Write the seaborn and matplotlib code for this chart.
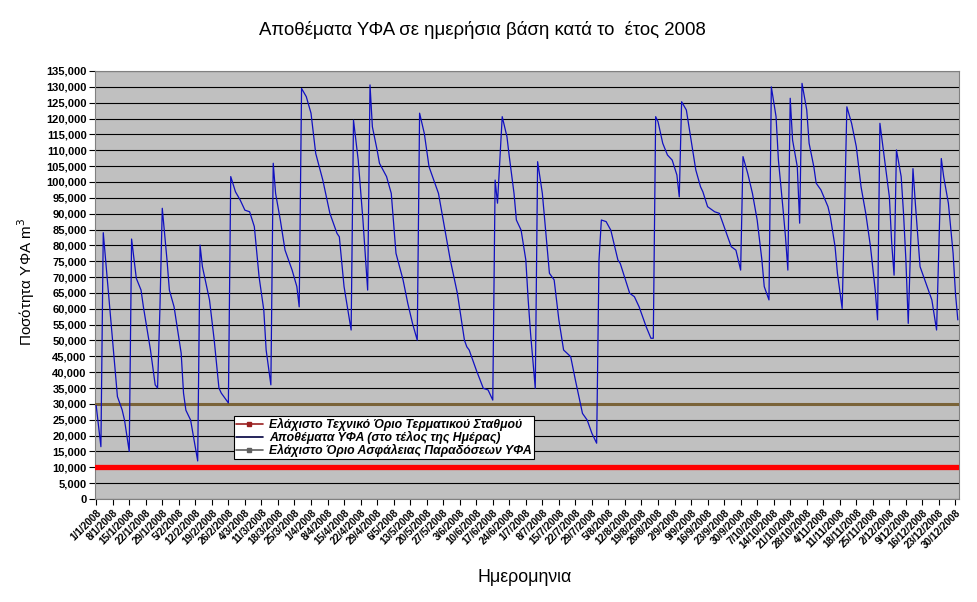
import numpy as np
import pandas as pd
import matplotlib
matplotlib.use("Agg")
import matplotlib.pyplot as plt
import seaborn as sns
from matplotlib.lines import Line2D

# ---- data ----
days = [0, 2, 3, 9, 11, 12, 14, 15, 17, 19, 20, 23, 25, 26, 27, 28, 30, 31, 33, 36,
        37, 38, 40, 43, 44, 45, 48, 50, 52, 53, 56, 57, 59, 61, 63, 65, 67, 69, 71, 72,
        74, 75, 76, 78, 80, 83, 85, 86, 87, 89, 91, 93, 96, 99, 102, 103, 105, 108, 109,
        111, 113, 115, 116, 117, 119, 120, 123, 125, 127, 130, 132, 134, 136, 137, 139,
        141, 143, 145, 147, 150, 153, 156, 157, 158, 161, 164, 166, 168, 169, 170, 172,
        174, 175, 177, 178, 180, 182, 183, 184, 186, 187, 189, 191, 192, 194, 196, 198,
        201, 203, 206, 208, 210, 212, 213, 214, 216, 218, 221, 222, 226, 228, 230, 233,
        235, 236, 237, 238, 240, 242, 244, 246, 247, 248, 250, 252, 254, 256, 257, 259,
        262, 264, 266, 269, 271, 273, 274, 276, 278, 280, 282, 283, 285, 286, 288, 289,
        291, 292, 293, 294, 295, 297, 298, 299, 301, 302, 304, 305, 307, 310, 311, 313,
        314, 316, 317, 318, 320, 322, 324, 326, 328, 330, 331, 332, 334, 336, 337, 338,
        339, 341, 342, 343, 344, 346, 347, 349, 351, 354, 356, 358, 359, 361, 363, 364, 365]
stock = [29500, 16500, 84000, 32300, 28100, 24900, 15000, 82000, 69600, 65900, 60600, 47000,
         36000, 35000, 60000, 91700, 75400, 65900, 60600, 46000, 33400, 28000, 24900, 12000,
         80100, 73300, 62800, 50100, 35000, 33400, 30300, 101700, 96900, 94300, 91100, 90600,
         85900, 70100, 59600, 47000, 36000, 105900, 96400, 88000, 78500, 72200, 67000, 60600,
         129500, 126900, 121700, 109000, 100600, 90100, 83800, 82700, 67000, 53300, 119500,
         106900, 88000, 65900, 130600, 117400, 110100, 105900, 101700, 96400, 77500, 69100,
         61700, 55400, 50100, 121700, 115300, 104800, 100600, 96400, 88000, 75400, 64900,
         50100, 48000, 47000, 40700, 34900, 34400, 31200, 100600, 93300, 120600, 114300,
         108000, 96400, 88000, 84800, 75400, 62800, 52300, 34900, 106400, 96400, 79600,
         71200, 69100, 56500, 47000, 44900, 37500, 27000, 24900, 20700, 17600, 75400, 88000,
         87500, 84800, 75400, 74300, 64900, 63800, 60600, 54300, 50700, 50700, 120600, 119000,
         112200, 108500, 106900, 102200, 95300, 125300, 122700, 113200, 103800, 98500, 96900,
         92200, 90600, 90100, 85900, 79600, 78500, 72200, 108000, 102700, 96400, 88000, 75400,
         67000, 62800, 130000, 120600, 106900, 91100, 82700, 72200, 126400, 113200, 104800,
         87000, 131100, 122700, 112200, 104800, 99600, 97500, 92200, 89000, 79600, 71200,
         60100, 90000, 123700, 118500, 111100, 98500, 90100, 79600, 65900, 56500, 118500,
         106900, 95300, 80600, 70600, 110100, 101700, 90100, 75400, 55400, 104200, 93300,
         73300, 69100, 62800, 53300, 107400, 101700, 93300, 77500, 64900, 56500]
TECH_MIN = 10000      # Ελάχιστο Τεχνικό Όριο Τερματικού Σταθμού
SAFETY_MIN = 30000    # Ελάχιστο Όριο Ασφάλειας Παραδόσεων ΥΦΑ
y_ticks = list(range(0, 135001, 5000))
tick_step_days = 7

title = "Αποθέματα ΥΦΑ σε ημερήσια βάση κατά το  έτος 2008"
label_tech = "Ελάχιστο Τεχνικό Όριο Τερματικού Σταθμού"
label_stock = "Αποθέματα ΥΦΑ (στο τέλος της Ημέρας)"
label_safety = "Ελάχιστο Όριο Ασφάλειας Παραδόσεων ΥΦΑ"

# ---- build frames ----
start = pd.Timestamp("2008-01-01")
end = pd.Timestamp("2008-12-31")
df = pd.DataFrame({"date": start + pd.to_timedelta(days, unit="D"), "stock": stock})
lim_df = pd.DataFrame({"date": [start - pd.Timedelta(hours=12), end + pd.Timedelta(hours=12)]})
lim_df["tech"] = TECH_MIN
lim_df["safety"] = SAFETY_MIN
tick_dates = pd.date_range(start, end, freq=f"{tick_step_days}D")
tick_labels = [f"{d.day}/{d.month}/{d.year}" for d in tick_dates]

sns.set_theme(style="white")
plt.rcParams["font.family"] = ["Liberation Sans", "DejaVu Sans"]
plt.rcParams["text.color"] = "black"
plt.rcParams["xtick.color"] = "black"
plt.rcParams["ytick.color"] = "black"

fig = plt.figure(figsize=(9.77, 6.02), dpi=100)
ax = fig.add_axes([95 / 977, 1 - 499 / 602, 864 / 977, 428 / 602])
ax.set_facecolor("#C0C0C0")

C_TECH = "#FF0000"
C_STOCK = "#1010C0"
C_SAFE = "#7A6338"

sns.lineplot(data=lim_df, x="date", y="tech", ax=ax, color=C_TECH, linewidth=3.8, zorder=3)
sns.lineplot(data=lim_df, x="date", y="safety", ax=ax, color=C_SAFE, linewidth=2.2, zorder=3)
sns.lineplot(data=df, x="date", y="stock", ax=ax, color=C_STOCK, linewidth=0.9, zorder=4)

ax.set_xlim(start - pd.Timedelta(hours=12), end + pd.Timedelta(hours=12))
ax.set_ylim(0, 135000)
ax.set_yticks(y_ticks)
ax.set_yticklabels([f"{v:,}" for v in y_ticks], fontsize=8, fontweight="bold")
ax.yaxis.grid(True, color="black", linewidth=0.8)
ax.set_axisbelow(True)
ax.set_xticks(tick_dates)
ax.set_xticklabels(tick_labels, rotation=45, ha="right", rotation_mode="anchor",
                   fontsize=7.2, fontweight="bold")
ax.tick_params(axis="both", which="major", length=4, width=0.8, color="black",
               direction="out", bottom=True, left=True, pad=2)
ax.set_xlabel("")
ax.set_ylabel("")
for s in ax.spines.values():
    s.set_color("#808080")
    s.set_linewidth(0.8)

fig.text(482 / 977, 1 - 30 / 602, title, ha="center", va="center", fontsize=13.4)
fig.text(26 / 977, 1 - 282 / 602, "Ποσότητα ΥΦΑ m$^3$", rotation=90, ha="center",
         va="center", fontsize=11)
fig.text(525 / 977, 1 - 577 / 602, "Ημερομηνια", ha="center", va="center", fontsize=12.8)

handles = [
    Line2D([], [], color="#9A2020", lw=1.2, marker="s", markersize=3),
    Line2D([], [], color="#000040", lw=1.2),
    Line2D([], [], color="#606060", lw=1.2, marker="s", markersize=3),
]
leg = ax.legend(handles, [label_tech, label_stock, label_safety],
                loc="upper left", bbox_to_anchor=(228 / 977, 1 - 410 / 602),
                bbox_transform=fig.transFigure, frameon=True, fancybox=False,
                framealpha=1, edgecolor="black", handlelength=2.2, handletextpad=0.5,
                labelspacing=0.0, borderpad=0.15,
                prop={"size": 8.8, "weight": "bold", "style": "italic"})
leg.get_frame().set_linewidth(0.8)
leg.set_zorder(10)

fig.savefig("out.png", dpi=100, facecolor="white")
